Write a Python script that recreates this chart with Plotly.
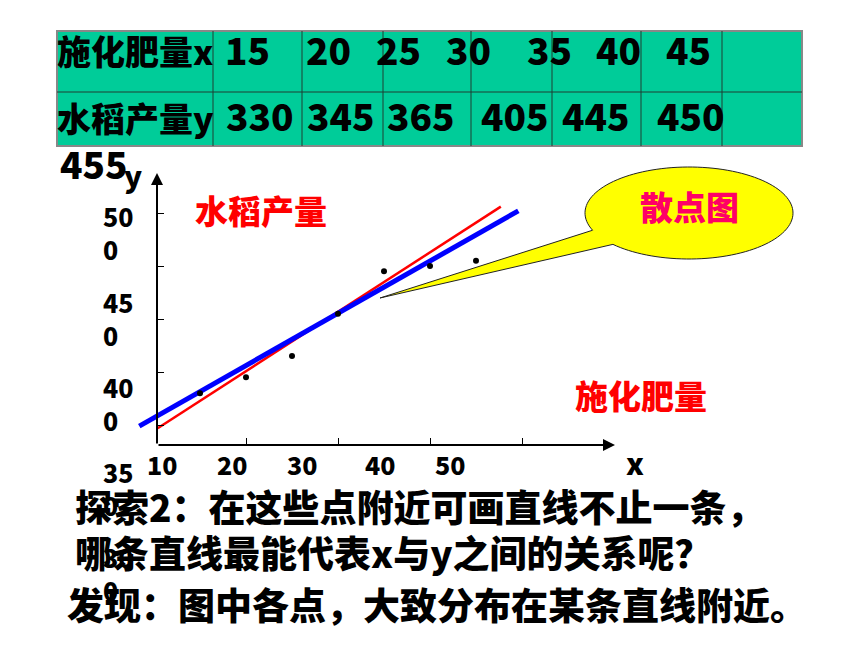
import numpy as np
import plotly.graph_objects as go

W, H = 860, 645
FONT = "Noto Sans CJK SC"

# ---------------- data ----------------
fert_x = [15, 20, 25, 30, 35, 40, 45]
rice_y = [330, 345, 365, 405, 445, 450, 455]
row_titles = ["施化肥量x", "水稻产量y"]
table_row1 = ["15", "20", "25", "30", "35", "40", "45"]
table_row2 = ["330", "345", "365", "405", "445", "450"]
overflow_label = "455"
x_tick_vals = [20, 30, 40, 50]
y_tick_vals = [300, 350, 400, 450, 500]
x_tick_text = ["10", "20", "30", "40", "50"]
y_tick_text = ["50<br>0", "45<br>0", "40<br>0", "35<br>0", "30<br>0"]
red_line_x = [10.4, 47.7]
red_line_y = [297, 506]
blue_line_x = [8.4, 49.6]
blue_line_y = [299, 502]
title_y = "水稻产量"
title_x = "施化肥量"
callout_text = "散点图"
notes = ["探索2：在这些点附近可画直线不止一条，",
         "哪条直线最能代表x与y之间的关系呢？",
         "发现：图中各点，大致分布在某条直线附近。"]

# ---------------- layout geometry (screen pixels) ----------------
OFF = 8  # page body margin
X_PPU, X_REF_PX, X_REF = 9.2, 338, 30
Y_PPU, Y_REF_PX, Y_REF = 1.06, 319, 400


def dx(px):
    return X_REF + (px - X_REF_PX) / X_PPU


def dy(py):
    return Y_REF - (py - Y_REF_PX) / Y_PPU


def PX(px):
    return (px - OFF) / W


def PY(py):
    return 1 - (py - OFF) / H


AX_L, AX_R, AX_B, AX_T = 157, 615, 445, 173

fig = go.Figure()

fig.add_trace(go.Scatter(x=red_line_x, y=red_line_y, mode="lines",
                         line=dict(color="#FF0000", width=2.5),
                         xaxis="x", yaxis="y", showlegend=False, hoverinfo="skip"))
fig.add_trace(go.Scatter(x=blue_line_x, y=blue_line_y, mode="lines",
                         line=dict(color="#0000FF", width=5),
                         xaxis="x", yaxis="y", showlegend=False, hoverinfo="skip"))
fig.add_trace(go.Scatter(x=fert_x, y=rice_y, mode="markers",
                         marker=dict(color="black", size=6),
                         xaxis="x2", yaxis="y2", showlegend=False))

shapes = []
col_edges = [57, 213, 302, 383, 471, 552, 641, 722, 802]
row_edges = [31, 92, 146]
shapes.append(dict(type="rect", xref="paper", yref="paper", layer="below",
                   x0=PX(col_edges[0]), x1=PX(col_edges[-1]),
                   y0=PY(row_edges[0]), y1=PY(row_edges[-1]),
                   fillcolor="#00CC99", line=dict(color="#888888", width=2)))
for c in col_edges[1:-1]:
    shapes.append(dict(type="line", xref="paper", yref="paper", layer="below",
                       x0=PX(c), x1=PX(c), y0=PY(row_edges[0]), y1=PY(row_edges[-1]),
                       line=dict(color="#1f3f33", width=1)))
shapes.append(dict(type="line", xref="paper", yref="paper", layer="below",
                   x0=PX(col_edges[0]), x1=PX(col_edges[-1]),
                   y0=PY(row_edges[1]), y1=PY(row_edges[1]),
                   line=dict(color="#1f3f33", width=1)))

cx, cy, rx, ry = 689, 213, 104, 46
t = np.radians(np.linspace(158, 137 + 360, 120))
pts = [(cx + rx * np.cos(a), cy + ry * np.sin(a)) for a in t]
tip = (380, 298)
path = "M " + " L ".join(f"{PX(x):.5f},{PY(y):.5f}" for x, y in pts)
path += f" L {PX(tip[0]):.5f},{PY(tip[1]):.5f} Z"
shapes.append(dict(type="path", xref="paper", yref="paper", layer="below", path=path,
                   fillcolor="#FFFF00", line=dict(color="#222222", width=1)))

annotations = []
TY = -3  # vertical glyph-centre correction


def txt(s, x, y, size, color="black", xanchor="left", yanchor="middle"):
    annotations.append(dict(text=s, x=PX(x), y=PY(y + TY), xref="paper", yref="paper",
                            showarrow=False, xanchor=xanchor, yanchor=yanchor, align="left",
                            borderpad=0,
                            font=dict(size=size, color=color, family=FONT, weight=900)))


annotations.append(dict(x=dx(AX_R), y=dy(AX_B), ax=dx(AX_L), ay=dy(AX_B),
                        xref="x", yref="y", axref="x", ayref="y", text="",
                        showarrow=True, arrowhead=2, arrowsize=1.2, arrowwidth=2, arrowcolor="black"))
annotations.append(dict(x=dx(AX_L), y=dy(AX_T), ax=dx(AX_L), ay=dy(AX_B),
                        xref="x", yref="y", axref="x", ayref="y", text="",
                        showarrow=True, arrowhead=2, arrowsize=1.2, arrowwidth=2, arrowcolor="black"))

txt(row_titles[0], 56, 54, 34)
txt(row_titles[1], 56, 120, 34)
row1_left = [224, 305, 375, 445, 526, 595, 665]
row2_left = [225, 306, 386, 480, 561, 656]
for s, x in zip(table_row1, row1_left):
    txt(s, x, 52, 37)
for s, x in zip(table_row2, row2_left):
    txt(s, x, 118, 37)
txt(overflow_label, 59, 166, 37)

x_lbl_centers = [162, 232, 302, 380, 450]
for s, x in zip(x_tick_text, x_lbl_centers):
    txt(s, x, 467, 25, xanchor="center")
y_lbl_mid = [235, 322, 406, 491, 576]
for s, y in zip(y_tick_text, y_lbl_mid):
    txt(s, 102, y, 25)
txt("x", 635, 465, 30, xanchor="center")
txt("y", 133, 178, 30, xanchor="center")

txt(title_y, 194, 213, 33, color="#FF0000")
txt(title_x, 574, 398, 33, color="#FF0000")
txt(callout_text, 689, 209, 33, color="#FF0066", xanchor="center")

txt(notes[0], 74, 509, 37)
txt(notes[1], 74, 555, 37)
txt(notes[2], 66, 607, 37)

fig.update_layout(
    width=W, height=H, margin=dict(l=0, r=0, t=0, b=0),
    paper_bgcolor="white", plot_bgcolor="rgba(0,0,0,0)",
    showlegend=False,
    xaxis=dict(domain=[0, 1], range=[dx(OFF), dx(W + OFF)], visible=False, anchor="y"),
    yaxis=dict(domain=[0, 1], range=[dy(H + OFF), dy(OFF)], visible=False, anchor="x"),
    xaxis2=dict(domain=[PX(AX_L), PX(AX_R)], range=[dx(AX_L), dx(AX_R)], anchor="y2",
                tickvals=x_tick_vals, ticks="inside", ticklen=7, tickwidth=1, tickcolor="black",
                showticklabels=False, showgrid=False, zeroline=False, showline=False),
    yaxis2=dict(domain=[PY(AX_B), PY(AX_T)], range=[dy(AX_B), dy(AX_T)], anchor="x2",
                tickvals=y_tick_vals, ticks="inside", ticklen=7, tickwidth=1, tickcolor="black",
                showticklabels=False, showgrid=False, zeroline=False, showline=False),
    shapes=shapes, annotations=annotations,
)

fig.write_html("out.html")
